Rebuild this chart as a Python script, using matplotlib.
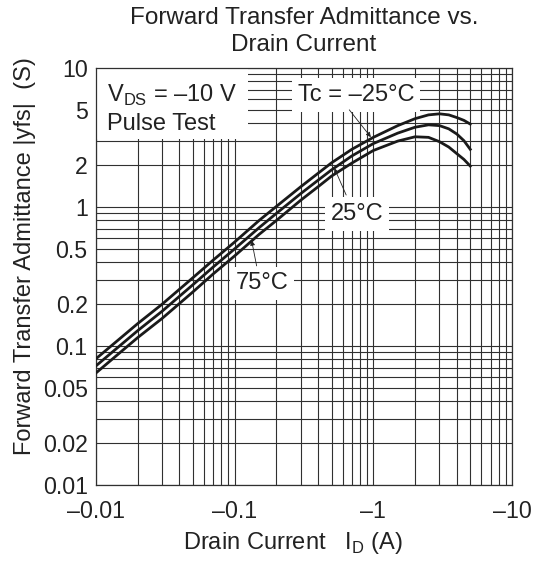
import numpy as np
import matplotlib
matplotlib.use("Agg")
import matplotlib.pyplot as plt
from matplotlib.ticker import FixedLocator, FixedFormatter, NullLocator
from matplotlib.patches import Rectangle

plt.rcParams['font.family'] = ['Liberation Sans', 'DejaVu Sans']
plt.rcParams['mathtext.fontset'] = 'custom'
plt.rcParams['mathtext.rm'] = 'Liberation Sans'

# drain current magnitude |I_D| (A); the axis prints it as negative
id_abs = [0.01, 0.02, 0.03, 0.05, 0.07, 0.1, 0.15, 0.2, 0.3, 0.4, 0.5, 0.7,
          1.0, 1.5, 2.0, 2.5, 3.0, 3.5, 4.0, 4.5, 5.0]
# |yfs| (S), one list per case temperature
yfs_m25 = [0.081, 0.145, 0.2, 0.31, 0.415, 0.56, 0.8, 1.01, 1.4, 1.75, 2.08, 2.6,
           3.17, 3.85, 4.32, 4.6, 4.68, 4.6, 4.4, 4.2, 3.95]
yfs_25 = [0.072, 0.129, 0.178, 0.276, 0.37, 0.5, 0.71, 0.9, 1.25, 1.56, 1.85, 2.33,
          2.86, 3.4, 3.75, 3.9, 3.85, 3.65, 3.35, 3.0, 2.6]
yfs_75 = [0.064, 0.115, 0.158, 0.245, 0.33, 0.445, 0.635, 0.8, 1.12, 1.4, 1.67, 2.07,
          2.55, 2.98, 3.2, 3.17, 2.95, 2.7, 2.42, 2.2, 1.97]

xticks = [0.01, 0.1, 1, 10]
xlabels = ['\u20130.01', '\u20130.1', '\u20131', '\u201310']
yticks = [0.01, 0.02, 0.05, 0.1, 0.2, 0.5, 1, 2, 5, 10]
ylabels = ['0.01', '0.02', '0.05', '0.1', '0.2', '0.5', '1', '2', '5', '10']

fs = 17
ink = '#222222'

fig = plt.figure(figsize=(5.36, 5.64), dpi=100)
ax = fig.add_axes([96/536, 1 - 485/564, 416/536, 417/564])
ax.set_xscale('log')
ax.set_yscale('log')
ax.set_xlim(0.01, 10)
ax.set_ylim(0.01, 10)

ax.xaxis.set_major_locator(FixedLocator(xticks))
ax.xaxis.set_major_formatter(FixedFormatter(xlabels))
ax.yaxis.set_major_locator(FixedLocator(yticks))
ax.yaxis.set_major_formatter(FixedFormatter(ylabels))
ax.xaxis.set_minor_locator(NullLocator())
ax.yaxis.set_minor_locator(NullLocator())
ax.tick_params(which='both', length=0, labelsize=16.7, colors=ink)
ax.tick_params(axis='x', pad=11)
ax.tick_params(axis='y', pad=6)

# full log grid, 1..9 in every decade
grid = [m * 10.0**e for e in (-2, -1, 0) for m in range(1, 10)] + [10]
for v in grid:
    ax.axvline(v, color='#303030', lw=0.8, zorder=1)
    ax.axhline(v, color='#303030', lw=0.8, zorder=1)
for s in ax.spines.values():
    s.set_color('#303030')
    s.set_linewidth(0.9)

for yv in (yfs_m25, yfs_25, yfs_75):
    ax.plot(id_abs, yv, color='#1a1a1a', lw=2.0, zorder=4)

# white panel behind the test conditions
ax.add_patch(Rectangle((0, 0.830), 0.365, 0.17, transform=ax.transAxes,
                       facecolor='white', edgecolor='none', zorder=2))
ax.text(0.026, 0.935, 'V$_{\\mathregular{DS}}$ = \u201310 V', transform=ax.transAxes,
        fontsize=fs, va='center', ha='left', color=ink, zorder=3)
ax.text(0.026, 0.866, 'Pulse Test', transform=ax.transAxes,
        fontsize=fs, va='center', ha='left', color=ink, zorder=3)

box = dict(facecolor='white', edgecolor='none', pad=4)
ax.text(0.625, 0.935, 'Tc = \u201325\u00b0C', transform=ax.transAxes, fontsize=fs,
        ha='center', va='center', bbox=box, color=ink, zorder=3)
ax.text(0.627, 0.650, '25\u00b0C', transform=ax.transAxes, fontsize=fs,
        ha='center', va='center', bbox=box, color=ink, zorder=3)
ax.text(0.399, 0.484, '75\u00b0C', transform=ax.transAxes, fontsize=fs,
        ha='center', va='center', bbox=box, color=ink, zorder=3)

arrow = dict(arrowstyle='-|>', color=ink, lw=0.6, mutation_scale=7, shrinkA=0, shrinkB=0)
ax.annotate('', xy=(0.96, 3.18), xytext=(0.671, 5.0), arrowprops=arrow, zorder=5)
ax.annotate('', xy=(0.524, 1.9), xytext=(0.637, 1.22), arrowprops=arrow, zorder=5)
ax.annotate('', xy=(0.1325, 0.575), xytext=(0.144, 0.377), arrowprops=arrow, zorder=5)

fig.text(304/536, 1 - 18/564, 'Forward Transfer Admittance vs.', ha='center', va='center',
         fontsize=17.5, color=ink)
fig.text(304/536, 1 - 45/564, 'Drain Current', ha='center', va='center',
         fontsize=17.5, color=ink)
fig.text(293/536, 1 - 543/564, 'Drain Current   I$_{\\mathregular{D}}$ (A)', ha='center',
         va='center', fontsize=fs, color=ink)
fig.text(25/536, 1 - 256/564, 'Forward Transfer Admittance |yfs|  (S)', rotation=90,
         ha='center', va='center', fontsize=fs, color=ink)

fig.savefig('out.png', dpi=100)
